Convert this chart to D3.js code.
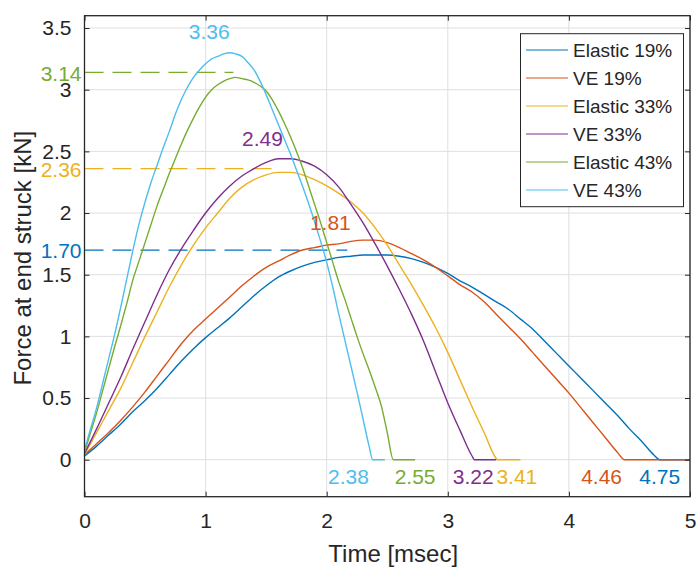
<!DOCTYPE html>
<html>
<head>
<meta charset="utf-8">
<script src="https://cdn.jsdelivr.net/npm/d3@7"></script>
<style>
  html, body { margin: 0; padding: 0; background: #ffffff; }
  svg { display: block; font-family: "Liberation Sans", Arial, Helvetica, sans-serif; }
</style>
</head>
<body>
<svg id="chart" width="696" height="567"></svg>
<script>
// ---------------- DATA ----------------
const seriesNames = ["Elastic 19%", "VE 19%", "Elastic 33%", "VE 33%", "Elastic 43%", "VE 43%"];
const seriesColors = ["#0072BD", "#D95319", "#EDB120", "#7E2F8E", "#77AC30", "#4DBEEE"];

// Elastic 19%
const tE19 = [0,0.1,0.2,0.3,0.4,0.5,0.6,0.7,0.8,0.9,1.0,1.1,1.2,1.3,1.4,1.5,1.6,1.7,1.8,1.9,2.0,2.1,2.2,2.3,2.4,2.5,2.6,2.7,2.8,2.9,3.0,3.1,3.2,3.3,3.4,3.5,3.6,3.7,3.8,3.9,4.0,4.1,4.2,4.3,4.4,4.5,4.6,4.7,4.75,5.0];
const fE19 = [0.03,0.11,0.20,0.29,0.39,0.48,0.58,0.69,0.80,0.90,0.99,1.07,1.15,1.24,1.33,1.41,1.48,1.53,1.57,1.60,1.62,1.64,1.65,1.66,1.66,1.66,1.65,1.63,1.60,1.56,1.51,1.45,1.40,1.34,1.28,1.22,1.14,1.06,0.96,0.86,0.76,0.66,0.56,0.46,0.36,0.25,0.15,0.04,0,0];

// VE 19%
const tV19 = [0,0.1,0.2,0.3,0.4,0.5,0.6,0.7,0.8,0.9,1.0,1.1,1.2,1.3,1.4,1.5,1.6,1.7,1.8,1.9,2.0,2.1,2.2,2.3,2.4,2.5,2.6,2.7,2.8,2.9,3.0,3.1,3.2,3.3,3.4,3.5,3.6,3.7,3.8,3.9,4.0,4.1,4.2,4.3,4.4,4.46,5.0];
const fV19 = [0.04,0.13,0.22,0.32,0.43,0.55,0.68,0.81,0.94,1.05,1.14,1.23,1.32,1.41,1.49,1.56,1.61,1.66,1.70,1.72,1.74,1.75,1.77,1.78,1.78,1.76,1.72,1.67,1.62,1.56,1.49,1.42,1.36,1.28,1.18,1.08,0.98,0.87,0.76,0.65,0.54,0.42,0.30,0.18,0.06,0,0];

// Elastic 33%
const tE33 = [0,0.1,0.2,0.3,0.4,0.5,0.6,0.7,0.8,0.9,1.0,1.1,1.2,1.3,1.4,1.5,1.6,1.7,1.8,1.9,2.0,2.1,2.2,2.3,2.4,2.5,2.6,2.7,2.8,2.9,3.0,3.1,3.2,3.3,3.4,3.41,3.6];
const fE33 = [0.04,0.22,0.40,0.58,0.79,1.00,1.20,1.40,1.58,1.74,1.88,2.00,2.12,2.21,2.27,2.31,2.33,2.33,2.31,2.27,2.22,2.16,2.09,2.00,1.88,1.74,1.58,1.42,1.25,1.07,0.87,0.65,0.43,0.22,0.01,0,0];

// VE 33%
const tV33 = [0,0.1,0.2,0.3,0.4,0.5,0.6,0.7,0.8,0.9,1.0,1.1,1.2,1.3,1.4,1.5,1.6,1.7,1.8,1.9,2.0,2.1,2.2,2.3,2.4,2.5,2.6,2.7,2.8,2.9,3.0,3.1,3.2,3.22,3.4];
const fV33 = [0.05,0.25,0.46,0.67,0.90,1.12,1.34,1.54,1.71,1.86,2.00,2.12,2.22,2.30,2.36,2.41,2.44,2.44,2.42,2.38,2.31,2.21,2.07,1.92,1.75,1.57,1.38,1.18,0.96,0.71,0.46,0.24,0.03,0,0];

// Elastic 43%
const tE43 = [0,0.05,0.1,0.15,0.2,0.25,0.3,0.35,0.4,0.45,0.5,0.55,0.6,0.65,0.7,0.75,0.8,0.85,0.9,0.95,1.0,1.05,1.1,1.15,1.2,1.25,1.3,1.35,1.4,1.45,1.5,1.55,1.6,1.65,1.7,1.75,1.8,1.85,1.9,1.95,2.0,2.05,2.1,2.15,2.2,2.25,2.3,2.35,2.4,2.45,2.5,2.55,2.73];
const fE43 = [0.06,0.22,0.38,0.56,0.74,0.92,1.09,1.27,1.46,1.61,1.76,1.91,2.06,2.19,2.32,2.44,2.56,2.67,2.77,2.86,2.94,3.00,3.04,3.07,3.09,3.10,3.09,3.08,3.06,3.03,2.99,2.92,2.83,2.73,2.62,2.50,2.37,2.22,2.07,1.92,1.76,1.60,1.44,1.30,1.15,1.00,0.86,0.73,0.59,0.44,0.22,0,0];

// VE 43%
const tV43 = [0,0.05,0.1,0.15,0.2,0.25,0.3,0.35,0.4,0.45,0.5,0.55,0.6,0.65,0.7,0.75,0.8,0.85,0.9,0.95,1.0,1.05,1.1,1.15,1.2,1.25,1.3,1.35,1.4,1.45,1.5,1.55,1.6,1.65,1.7,1.75,1.8,1.85,1.9,1.95,2.0,2.05,2.1,2.15,2.2,2.25,2.3,2.35,2.38,2.48];
const fV43 = [0.08,0.25,0.42,0.62,0.82,1.02,1.24,1.47,1.70,1.91,2.09,2.25,2.39,2.53,2.66,2.80,2.92,3.02,3.10,3.16,3.21,3.25,3.27,3.29,3.30,3.29,3.27,3.22,3.16,3.07,2.96,2.84,2.72,2.60,2.48,2.35,2.22,2.08,1.93,1.77,1.60,1.40,1.18,0.97,0.76,0.55,0.33,0.11,0,0];

const seriesT = [tE19, tV19, tE33, tV33, tE43, tV43];
const seriesF = [fE19, fV19, fE33, fV33, fE43, fV43];

// Peak annotations (value, time of peak) and end-time annotations
const peakValues = [1.70, 1.81, 2.36, 2.49, 3.14, 3.36];
const peakTimes  = [2.17, 2.33, 1.61, 1.65, 1.23, 1.20];
const endTimes   = [4.75, 4.46, 3.41, 3.22, 2.55, 2.38];

const xTicks = [0, 1, 2, 3, 4, 5];
const xTickLabels = ["0", "1", "2", "3", "4", "5"];
const yTicks = [0, 0.5, 1, 1.5, 2, 2.5, 3, 3.5];
const yTickLabels = ["0", "0.5", "1", "1.5", "2", "2.5", "3", "3.5"];

const xLabel = "Time [msec]";
const yLabel = "Force at end struck [kN]";

// ---------------- LAYOUT ----------------
const L = 84.5, R = 690, T = 15.7, B = 496.7;
const axisColor = "#262626";
const x = d3.scaleLinear().domain([0, 5]).range([L, R]);
const y = d3.scaleLinear().domain([-0.3, 3.6]).range([B, T]);

const svg = d3.select("#chart");

// grid
const grid = svg.append("g");
grid.selectAll("line.gx").data(xTicks).join("line")
  .attr("x1", d => x(d)).attr("x2", d => x(d)).attr("y1", T).attr("y2", B)
  .attr("stroke", "#dfdfdf").attr("stroke-width", 1);
grid.selectAll("line.gy").data(yTicks).join("line")
  .attr("x1", L).attr("x2", R).attr("y1", d => y(d)).attr("y2", d => y(d))
  .attr("stroke", "#dfdfdf").attr("stroke-width", 1);

// clip
svg.append("defs").append("clipPath").attr("id", "clip")
  .append("rect").attr("x", L).attr("y", T).attr("width", R - L).attr("height", B - T);

const plot = svg.append("g").attr("clip-path", "url(#clip)");

// dashed peak guide lines (Elastic 19%, Elastic 33%, Elastic 43%)
const dashedIdx = [0, 2, 4];
plot.selectAll("line.dash").data(dashedIdx).join("line")
  .attr("x1", L).attr("x2", i => x(peakTimes[i]))
  .attr("y1", i => y(peakValues[i])).attr("y2", i => y(peakValues[i]))
  .attr("stroke", i => seriesColors[i]).attr("stroke-width", 1.3)
  .attr("stroke-dasharray", "19,9");

// curves
const line = d3.line().x(d => x(d[0])).y(d => y(d[1])).curve(d3.curveMonotoneX);
seriesNames.forEach((name, i) => {
  const pts = seriesT[i].map((t, k) => [t, seriesF[i][k]]);
  plot.append("path").datum(pts)
    .attr("d", line)
    .attr("fill", "none")
    .attr("stroke", seriesColors[i])
    .attr("stroke-width", 1.4)
    .attr("stroke-linejoin", "round");
});

// axes
const fontTick = 21;
const ax = svg.append("g").attr("transform", `translate(0,${B})`)
  .call(d3.axisBottom(x).tickValues(xTicks).tickFormat((d, i) => xTickLabels[i])
    .tickSizeInner(-5).tickSizeOuter(0).tickPadding(16));
const ay = svg.append("g").attr("transform", `translate(${L},0)`)
  .call(d3.axisLeft(y).tickValues(yTicks).tickFormat((d, i) => yTickLabels[i])
    .tickSizeInner(-5).tickSizeOuter(0).tickPadding(13));
const axTop = svg.append("g").attr("transform", `translate(0,${T})`)
  .call(d3.axisTop(x).tickValues(xTicks).tickFormat("").tickSizeInner(-5).tickSizeOuter(0));
const ayRight = svg.append("g").attr("transform", `translate(${R},0)`)
  .call(d3.axisRight(y).tickValues(yTicks).tickFormat("").tickSizeInner(-5).tickSizeOuter(0));

[ax, ay, axTop, ayRight].forEach(g => {
  g.select(".domain").remove();
  g.selectAll(".tick line").attr("stroke", axisColor).attr("stroke-width", 1);
  g.selectAll(".tick text").attr("fill", axisColor).attr("font-size", fontTick)
    .attr("font-family", "'Liberation Sans', Arial, sans-serif");
});

// box
svg.append("rect").attr("x", L).attr("y", T).attr("width", R - L).attr("height", B - T)
  .attr("fill", "none").attr("stroke", axisColor).attr("stroke-width", 1.3);

// axis labels
svg.append("text").attr("x", (L + R) / 2 + 6).attr("y", 562)
  .attr("text-anchor", "middle").attr("font-size", 24).attr("fill", axisColor).text(xLabel);
svg.append("text").attr("transform", `translate(31,${(T + B) / 2 + 2}) rotate(-90)`)
  .attr("text-anchor", "middle").attr("font-size", 24).attr("fill", axisColor).text(yLabel);

// annotations
const fontAnn = 21;
// left-side labels for dashed lines
svg.selectAll("text.lbl").data(dashedIdx).join("text")
  .attr("x", L - 3).attr("y", i => y(peakValues[i]) + 1)
  .attr("dy", "0.35em")
  .attr("text-anchor", "end").attr("font-size", fontAnn)
  .attr("fill", i => seriesColors[i]).text(i => peakValues[i].toFixed(2));

// labels above peaks (VE 19%, VE 33%, VE 43%)
const topLabelPos = [[1, 2.03, 1.865], [3, 1.47, 2.54], [5, 1.03, 3.41]];
svg.selectAll("text.top").data(topLabelPos).join("text")
  .attr("x", d => x(d[1])).attr("y", d => y(d[2]))
  .attr("text-anchor", "middle").attr("font-size", fontAnn)
  .attr("fill", d => seriesColors[d[0]]).text(d => peakValues[d[0]].toFixed(2));

// end-time labels
const endLabelX = [4.75, 4.27, 3.57, 3.21, 2.73, 2.18];
svg.selectAll("text.end").data(endTimes).join("text")
  .attr("x", (d, i) => x(endLabelX[i])).attr("y", y(-0.195))
  .attr("text-anchor", "middle").attr("font-size", fontAnn)
  .attr("fill", (d, i) => seriesColors[i]).text(d => d.toFixed(2));

// legend
const lg = svg.append("g");
lg.append("rect").attr("x", 520.5).attr("y", 33.7).attr("width", 163).attr("height", 173)
  .attr("fill", "#ffffff").attr("stroke", axisColor).attr("stroke-width", 1);
seriesNames.forEach((name, i) => {
  const cy = 50 + i * 28;
  lg.append("line").attr("x1", 526).attr("x2", 568).attr("y1", cy).attr("y2", cy)
    .attr("stroke", seriesColors[i]).attr("stroke-width", 1.2);
  lg.append("text").attr("x", 573).attr("y", cy).attr("dy", "0.36em")
    .attr("font-size", 19).attr("fill", axisColor).text(name);
});
</script>
</body>
</html>
